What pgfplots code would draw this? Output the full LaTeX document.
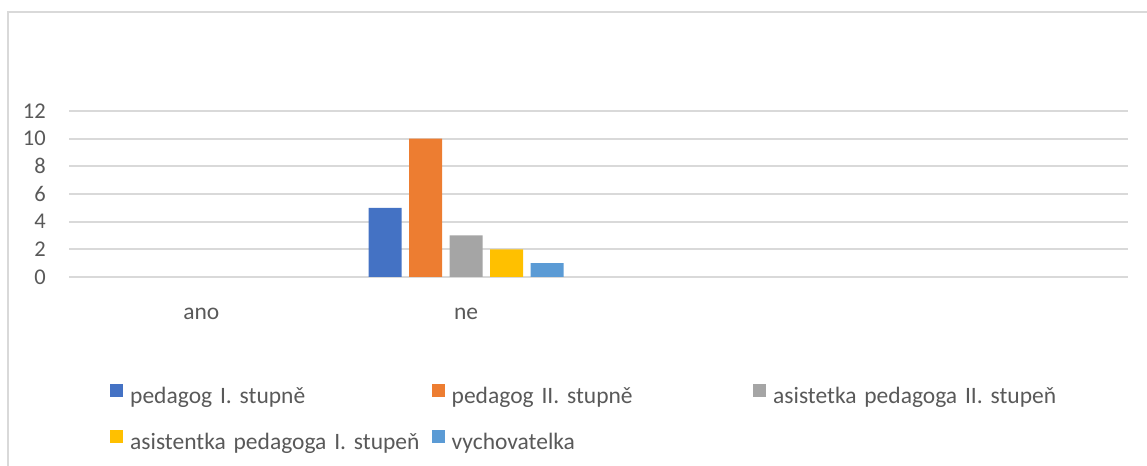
\documentclass[border=0pt]{standalone}
\usepackage{fontspec}
\setmainfont{Carlito}
\usepackage{pgfplots}
\pgfplotsset{compat=1.18}

\definecolor{serA}{HTML}{4472C4}
\definecolor{serB}{HTML}{ED7D31}
\definecolor{serC}{HTML}{A5A5A5}
\definecolor{serD}{HTML}{FFC000}
\definecolor{serE}{HTML}{5B9BD5}
\definecolor{txt}{HTML}{595959}
\definecolor{gridc}{HTML}{D9D9D9}

\begin{document}
\begin{tikzpicture}
\path[use as bounding box] (0,0) rectangle (1147bp,466bp);
\draw[gridc, line width=2bp] (8bp,0) -- (8bp,454bp) -- (1147bp,454bp);
\begin{axis}[
  at={(69bp,189bp)}, anchor=south west,
  scale only axis,
  width=1059bp, height=166bp,
  ybar=7.5bp, bar width=33bp,
  xmin=-0.5, xmax=3.5,
  ymin=0, ymax=12,
  xtick={0,1,2,3},
  xticklabels={ano,ne,,},
  ytick={0,2,...,12},
  ymajorgrids,
  grid style={gridc, line width=2bp},
  axis line style={draw=none},
  tick style={draw=none},
  /pgf/number format/assume math mode=true,
  yticklabel style={font=\fontsize{22.5bp}{26bp}\selectfont, color=txt, anchor=east, inner sep=0pt, xshift=-23bp},
  xticklabel style={font=\fontsize{23.5bp}{28bp}\selectfont, color=txt, anchor=base, inner sep=0pt, yshift=-38bp},
  legend columns=3,
  legend style={
    at={(axis description cs:0.03872,-0.6446)}, anchor=north west,
    draw=none, fill=none, inner sep=0pt,
    font=\fontsize{23.5bp}{28bp}\selectfont, text=txt,
    row sep=21bp,
    nodes={inner sep=0pt, text height=18bp, text depth=6bp},
    /tikz/every odd column/.append style={column sep=7bp},
    /tikz/every even column/.append style={column sep=0bp, text width=301.5bp, align=left},
  },
  legend image code/.code={\fill[#1, draw=none] (0bp,0bp) rectangle (13bp,13bp);},
]
\addplot[draw=none, fill=serA] coordinates {(0,0) (1,5)};
\addplot[draw=none, fill=serB] coordinates {(0,0) (1,10)};
\addplot[draw=none, fill=serC] coordinates {(0,0) (1,3)};
\addplot[draw=none, fill=serD] coordinates {(0,0) (1,2)};
\addplot[draw=none, fill=serE] coordinates {(0,0) (1,1)};
\legend{pedagog I. stupně, pedagog II. stupně, asistetka pedagoga II. stupeň, asistentka pedagoga I. stupeň, vychovatelka}
\end{axis}
\end{tikzpicture}
\end{document}
